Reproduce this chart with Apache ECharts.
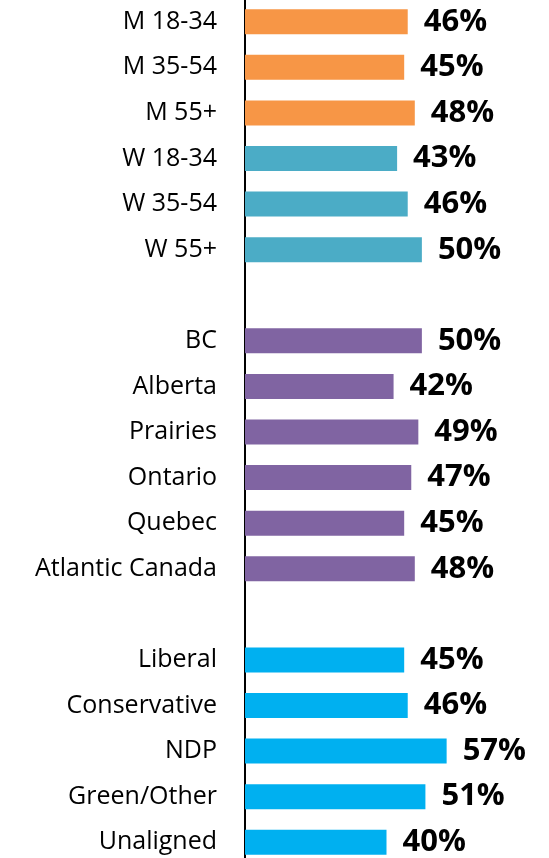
<!DOCTYPE html>
<html>
<head>
<meta charset="utf-8">
<script src="https://cdn.jsdelivr.net/npm/echarts@6/dist/echarts.min.js"></script>
<style>
  html, body { margin: 0; padding: 0; background: #fff; }
  #chart { width: 549px; height: 858px; }
</style>
</head>
<body>
<div id="chart"></div>
<script>
// groups, top to bottom
const ageLabels = ["M 18-34", "M 35-54", "M 55+", "W 18-34", "W 35-54", "W 55+"];
const ageValues = [46, 45, 48, 43, 46, 50];
const ageColors = ["#F79646", "#F79646", "#F79646", "#4BACC6", "#4BACC6", "#4BACC6"];

const regionLabels = ["BC", "Alberta", "Prairies", "Ontario", "Quebec", "Atlantic Canada"];
const regionValues = [50, 42, 49, 47, 45, 48];
const regionColor = "#8064A2";

const partyLabels = ["Liberal", "Conservative", "NDP", "Green/Other", "Unaligned"];
const partyValues = [45, 46, 57, 51, 40];
const partyColor = "#00B0F0";

const categories = [];
const data = [];
ageLabels.forEach((c, i) => {
  categories.push(c);
  data.push({ value: ageValues[i], itemStyle: { color: ageColors[i] } });
});
categories.push(" ");
data.push("-");
regionLabels.forEach((c, i) => {
  categories.push(c);
  data.push({ value: regionValues[i], itemStyle: { color: regionColor } });
});
categories.push("  ");
data.push("-");
partyLabels.forEach((c, i) => {
  categories.push(c);
  data.push({ value: partyValues[i], itemStyle: { color: partyColor } });
});

const chart = echarts.init(document.getElementById("chart"));
chart.setOption({
  animation: false,
  grid: { left: 245, right: 21, top: -1, bottom: -7, outerBoundsMode: "none" },
  xAxis: {
    type: "value",
    min: 0,
    max: 80,
    show: false
  },
  yAxis: {
    type: "category",
    inverse: true,
    data: categories,
    axisTick: { show: false },
    axisLine: { lineStyle: { color: "#000", width: 2 } },
    axisLabel: {
      color: "#000",
      fontSize: 25,
      fontFamily: "'Open Sans', sans-serif",
      margin: 28
    }
  },
  series: [{
    type: "bar",
    data: data,
    barWidth: 25,
    label: {
      show: true,
      position: "right",
      distance: 16,
      formatter: "{c}%",
      color: "#000",
      fontSize: 31,
      fontWeight: "bold",
      fontFamily: "'Open Sans', sans-serif"
    }
  }]
});
</script>
</body>
</html>
